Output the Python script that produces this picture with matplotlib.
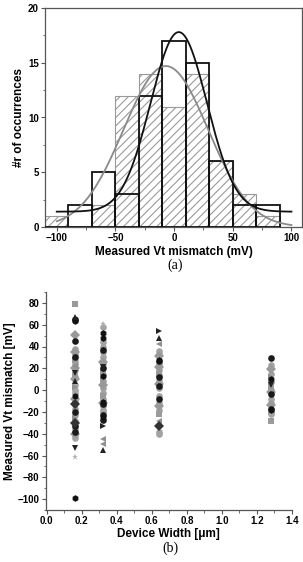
import numpy as np
import matplotlib
matplotlib.use("Agg")
import matplotlib.pyplot as plt
from matplotlib.ticker import MultipleLocator

plt.rcParams["font.family"] = ["Liberation Sans", "DejaVu Sans"]
plt.rcParams["hatch.linewidth"] = 0.8

# ---------------- (a) histogram data ----------------
bin_edges = [-110, -90, -70, -50, -30, -10, 10, 30, 50, 70, 90]
gray_counts = [1, 0, 2, 12, 14, 11, 14, 6, 3, 1]
black_counts = [0, 2, 5, 3, 12, 17, 15, 6, 2, 2]

# gaussian fit parameters: offset, amplitude, centre, sigma
gray_fit = [0.0, 14.7, -7.0, 36.0]
black_fit = [1.4, 16.4, 4.0, 24.0]

# ---------------- (b) scatter data ----------------
widths = [0.16, 0.32, 0.64, 1.28]
gray_circle = [[38, 33, 27, 24, 18, 12, 5, 0, -3, -10, -17, -23, -28, -36, -41, -44],
               [58, 44, 40, 35, 30, 24, 14, 8, 2, -3, -8, -15, -18, -20],
               [36, 33, 24, 18, 14, 8, 2, -5, -12, -18, -38, -40],
               [23, 15, 7, 0, -8, -12, -20, -22]]
gray_square = [[79, 28, -12, 14], [17, -5, 10], [15, -22], [3, -28, 8]]
gray_diamond = [[51, 35, 10, -8, -40, 20], [26, 5, -12], [31, 21, -15, 6], [19, -14, -2]]
gray_left_tri = [[22, -15], [-45, -49], [-28, 42], []]
gray_right_tri = [[3, -26], [], [], [12]]
gray_star = [[-61], [61], [], []]
black_circle = [[64, 45, 30, -20, -33, -38], [37, 20, -27, -23, -13], [27, 12, 4, -8], [29, -4, -17]]
black_hexagon = [[65, 63, -99, -5], [52, 48, 13, -11, -25], [28], [10, -18]]
black_down_tri = [[16, -53], [21], [], [5]]
black_up_tri = [[67, 8], [-55], [48], []]
black_right_tri = [[], [-33], [54], []]
black_diamond = [[-13, -30], [], [-33], []]

series = [
    (gray_circle, "o", "#a3a3a3"),
    (gray_square, "s", "#9a9a9a"),
    (gray_diamond, "D", "#999999"),
    (gray_left_tri, "<", "#8f8f8f"),
    (gray_right_tri, ">", "#8f8f8f"),
    (gray_star, "*", "#b0b0b0"),
    (black_circle, "o", "#1a1a1a"),
    (black_hexagon, "h", "#111111"),
    (black_down_tri, "v", "#222222"),
    (black_up_tri, "^", "#222222"),
    (black_right_tri, ">", "#222222"),
    (black_diamond, "D", "#333333"),
]

fig = plt.figure(figsize=(3.03, 5.62), dpi=100)

# ---------------- (a) ----------------
ax1 = fig.add_axes([45 / 303, 1 - 227 / 562, 257 / 303, 219 / 562])
lefts = bin_edges[:-1]
bw = np.diff(bin_edges)
ax1.bar(lefts, gray_counts, width=bw, align="edge", facecolor="white",
        edgecolor="#9a9a9a", hatch="////", linewidth=0.8, zorder=1)
ax1.bar(lefts, black_counts, width=bw, align="edge", fill=False,
        edgecolor="#111111", linewidth=1.3, zorder=3)

xs = np.linspace(-100, 100, 400)
off, amp, mu, sig = gray_fit
ax1.plot(xs, off + amp * np.exp(-(xs - mu) ** 2 / (2 * sig ** 2)),
         color="#8a8a8a", lw=1.3, zorder=4)
off, amp, mu, sig = black_fit
ax1.plot(xs, off + amp * np.exp(-(xs - mu) ** 2 / (2 * sig ** 2)),
         color="#111111", lw=1.3, zorder=5)

ax1.set_xlim(-110, 109)
ax1.set_ylim(0, 20)
ax1.set_xticks([-100, -50, 0, 50, 100])
ax1.set_yticks([0, 5, 10, 15, 20])
ax1.xaxis.set_minor_locator(MultipleLocator(25))
ax1.yaxis.set_minor_locator(MultipleLocator(2.5))
ax1.set_xlabel("Measured Vt mismatch (mV)", fontsize=8.5, fontweight="bold", labelpad=2)
ax1.set_ylabel("#r of occurrences", fontsize=8.5, fontweight="bold", labelpad=2)

# ---------------- (b) ----------------
ax2 = fig.add_axes([45.7 / 303, 1 - 510 / 562, 246.3 / 303, 218 / 562])
for data, mk, col in series:
    for w, vals in zip(widths, data):
        if len(vals) == 0:
            continue
        ax2.plot(np.full(len(vals), w), vals, linestyle="none", marker=mk,
                 color=col, markersize=4.8, markeredgewidth=0)

ax2.set_xlim(-0.006, 1.4)
ax2.set_ylim(-110, 90)
ax2.set_xticks(np.arange(0, 1.41, 0.2))
ax2.set_xticklabels([f"{v:.1f}" for v in np.arange(0, 1.41, 0.2)])
ax2.set_yticks(np.arange(-100, 81, 20))
ax2.xaxis.set_minor_locator(MultipleLocator(0.1))
ax2.yaxis.set_minor_locator(MultipleLocator(10))
ax2.spines["top"].set_visible(False)
ax2.spines["right"].set_visible(False)
ax2.set_xlabel("Device Width [\u03bcm]", fontsize=8.5, fontweight="bold", labelpad=1)
ax2.set_ylabel("Measured Vt mismatch [mV]", fontsize=8.5, fontweight="bold", labelpad=1)

for ax in (ax1, ax2):
    for s in ax.spines.values():
        s.set_color("#555555")
        s.set_linewidth(0.9)
    ax.tick_params(which="major", length=3, width=0.8, color="#555555",
                   labelsize=7, pad=1.5)
    ax.tick_params(which="minor", length=1.8, width=0.6, color="#555555")
    for lab in ax.get_xticklabels() + ax.get_yticklabels():
        lab.set_fontweight("bold")

fig.text(175 / 303, 1 - 265 / 562, "(a)", family="Liberation Serif", fontsize=10,
         ha="center", va="center")
fig.text(170 / 303, 1 - 548 / 562, "(b)", family="Liberation Serif", fontsize=10,
         ha="center", va="center")

fig.savefig("out.png", dpi=100)
